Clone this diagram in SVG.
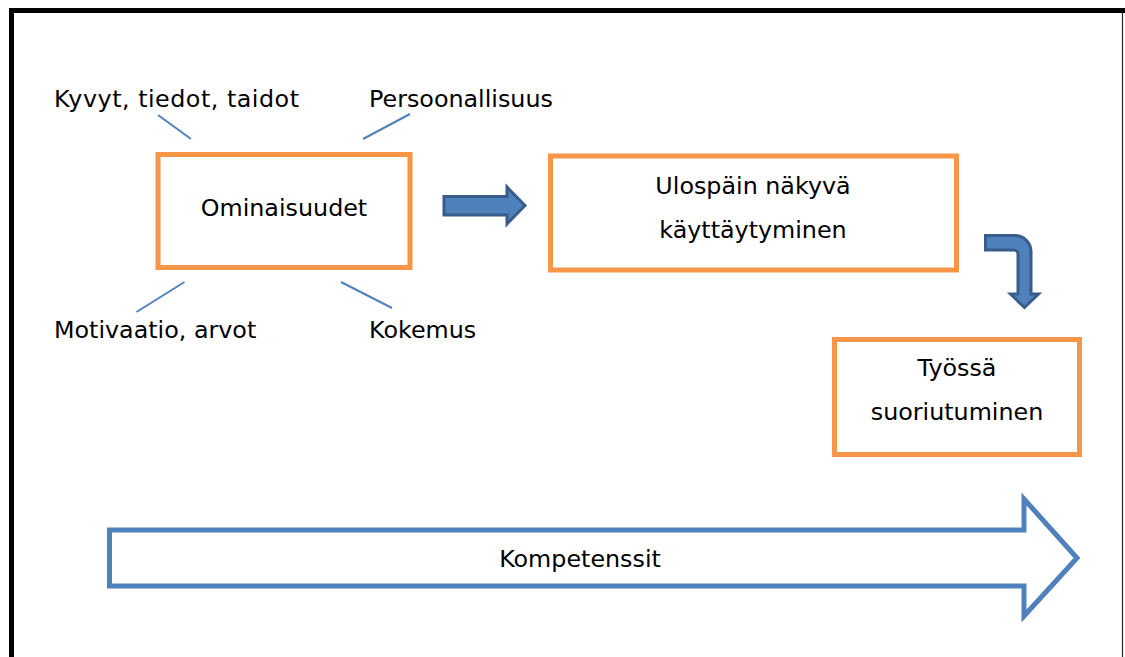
<svg xmlns="http://www.w3.org/2000/svg" width="1125" height="657" viewBox="0 0 1125 657">
  <style>
    .lbl { font-family: "DejaVu Sans", Verdana, sans-serif; font-size: 23.8px; fill: #000; }
    .mid { text-anchor: middle; }
    .box { fill: #fff; stroke: #F79646; stroke-width: 5; }
    .tick { stroke: #4F81BD; stroke-width: 2; fill: none; }
    .block { fill: #4F81BD; stroke: #385D8A; stroke-width: 3; stroke-linejoin: miter; }
  </style>
  <rect x="0" y="0" width="1125" height="657" fill="#fff"/>
  <!-- frame -->
  <path d="M11.5,657 V10.5 H1125" fill="none" stroke="#000" stroke-width="5"/>
  <line x1="1122.5" y1="13" x2="1122.5" y2="657" stroke="#222" stroke-width="1.2"/>

  <!-- attribute labels around the traits box -->
  <g id="kyvyt"><text class="lbl" x="54" y="107" textLength="245" lengthAdjust="spacing">Kyvyt, tiedot, taidot</text></g>
  <g id="persoonallisuus"><text class="lbl" x="369" y="107">Persoonallisuus</text></g>
  <g id="motivaatio"><text class="lbl" x="54" y="338">Motivaatio, arvot</text></g>
  <g id="kokemus"><text class="lbl" x="369" y="338">Kokemus</text></g>

  <g id="ominaisuudet">
    <rect class="box" x="158" y="154.5" width="252" height="113"/>
    <text class="lbl mid" x="284" y="216">Ominaisuudet</text>
  </g>
  <g id="kayttaytyminen">
    <rect class="box" x="550.5" y="156" width="406" height="114"/>
    <text class="lbl mid" x="753" y="194">Ulospäin näkyvä</text>
    <text class="lbl mid" x="753" y="238">käyttäytyminen</text>
  </g>
  <g id="suoriutuminen">
    <rect class="box" x="834.5" y="339.5" width="245" height="115"/>
    <text class="lbl mid" x="957" y="376">Työssä</text>
    <text class="lbl mid" x="957" y="420">suoriutuminen</text>
  </g>
  <g id="kompetenssit">
    <polygon points="109.5,530 1024,530 1024,499 1077,558 1024,616 1024,586 109.5,586" fill="#fff" stroke="#4F81BD" stroke-width="5"/>
    <text class="lbl mid" x="580" y="567">Kompetenssit</text>
  </g>

  <g id="connectors">
    <line class="tick" x1="158" y1="115" x2="191" y2="139"/>
    <line class="tick" x1="410" y1="114" x2="363" y2="139"/>
    <line class="tick" x1="184.5" y1="282" x2="136.5" y2="312"/>
    <line class="tick" x1="341" y1="282" x2="392" y2="308"/>
    <polygon class="block" points="444,196.5 507,196.5 507,187 525,205.5 507,224 507,215 444,215"/>
    <path class="block" d="M985.5,235.5 H1015 A16,16 0 0 1 1031,251.5 V294 H1038.5 L1024.5,307.5 L1010.5,294 H1018 V254 A4,4 0 0 0 1014,250 H985.5 Z"/>
  </g>
</svg>
